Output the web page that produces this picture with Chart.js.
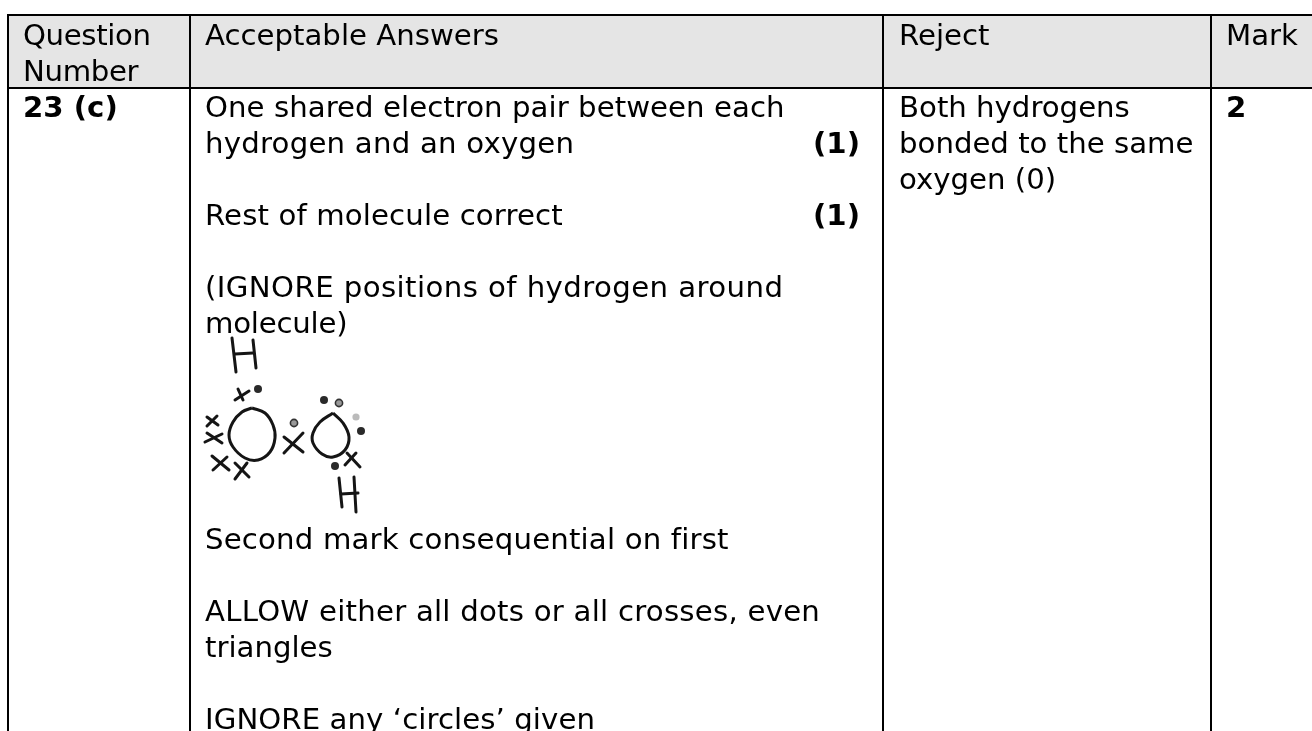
<!DOCTYPE html>
<html><head><meta charset="utf-8">
<style>html,body{margin:0;padding:0;background:#fff;overflow:hidden}canvas{display:block}</style>
<script src="https://cdn.jsdelivr.net/npm/chart.js@4"></script>
</head><body><canvas id="c" width="1312" height="731"></canvas>
<script>
// Table content
const headerCells = [["Question","Number"],["Acceptable Answers"],["Reject"],["Mark"]];
const questionCell = ["23 (c)"];
const answerLines = ["One shared electron pair between each","hydrogen and an oxygen","","Rest of molecule correct","","(IGNORE positions of hydrogen around","molecule)","","","","","","Second mark consequential on first","","ALLOW either all dots or all crosses, even","triangles","","IGNORE any ‘circles’ given"];
const answerMarks = [[1,"(1)"],[3,"(1)"]];
const rejectLines = ["Both hydrogens","bonded to the same","oxygen (0)"];
const markCell = ["2"];
// Table rules, in page units
const ruleSegments = [[[7,15],[1312,15]],[[7,88],[1312,88]],[[8,14],[8,731]],[[190,14],[190,731]],[[883,14],[883,731]],[[1211,14],[1211,731]]];
const headerBand = [[9,15],[1312,15]];
// Hand-drawn molecule strokes
const smoothStrokes = [
 [[252,408],[265,413],[273,425],[275,438],[270,452],[258,460],[245,458],[233,447],[229,435],[233,422],[242,412],[252,408]],
 [[333,413],[343,423],[349,437],[345,450],[333,457],[322,454],[313,443],[313,433],[320,422],[333,413]]
];
const straightStrokes = [
 [[232,338],[236,372]],[[253,340],[256,368]],[[235,354],[253,353]],
 [[339,478],[342,507]],[[354,477],[356,512]],[[341,494],[358,493]],
 [[235,400],[249,391]],[[238,389],[243,400]],
 [[207,417],[218,425]],[[217,416],[207,426]],
 [[205,442],[222,434]],[[207,433],[222,443]],
 [[212,456],[229,470]],[[227,457],[213,470]],
 [[235,463],[249,477]],[[247,463],[235,479]],
 [[284,437],[303,452]],[[303,433],[284,453]],
 [[347,453],[360,467]],[[356,453],[345,465]]
];
const dotsDark = [[258,389],[324,400],[361,431],[335,466]];
const dotsRing = [[339,403],[294,423]];
const dotsPale = [[356,417]];

const pt = a => a.map(([x,y])=>({x,y}));
const INK = "#151515";
const datasets = [];
datasets.push({type:"line",order:10,data:pt(headerBand),borderWidth:0,pointRadius:0,backgroundColor:"#e5e5e5",fill:{target:{value:88}}});
ruleSegments.forEach(s=>datasets.push({type:"line",order:5,data:pt(s),borderColor:"#000",borderWidth:2,pointRadius:0,borderCapStyle:"butt"}));
smoothStrokes.forEach(s=>datasets.push({type:"line",order:1,data:pt(s),borderColor:INK,borderWidth:3,pointRadius:0,tension:0.4}));
straightStrokes.forEach(s=>datasets.push({type:"line",order:1,data:pt(s),borderColor:INK,borderWidth:3,pointRadius:0,borderCapStyle:"round"}));
datasets.push({type:"scatter",order:1,data:pt(dotsDark),pointRadius:4,backgroundColor:"#2a2a2a",borderWidth:0});
datasets.push({type:"scatter",order:1,data:pt(dotsRing),pointRadius:3.6,backgroundColor:"#999",borderColor:"#333",borderWidth:1.6});
datasets.push({type:"scatter",order:1,data:pt(dotsPale),pointRadius:3.6,backgroundColor:"#bbb",borderWidth:0});

const FONT = '"DejaVu Sans", Verdana, sans-serif';
const SIZE = 29.2, STEP = 36, HEAD_BASE = 45, BODY_BASE = 117;
// extra line width (px) so the lines end where the reference's Verdana-set lines end
const answerStretch = [2,5,0,3,0,15,-2,0,0,0,0,0,6,0,10,0,0,2];
const tablePlugin = {id:"tableText",afterDatasetsDraw(chart){
  const {ctx,scales:{x,y}} = chart;
  const put = (lines,px,base,bold,align,stretch)=>lines.forEach((t,i)=>{
    if(!t) return;
    ctx.font=(bold?"bold ":"")+SIZE+"px "+FONT;
    ctx.letterSpacing = (stretch ? stretch[i]/t.length : 0)+"px";
    ctx.textAlign=align||"left"; ctx.textBaseline="alphabetic"; ctx.fillStyle="#000";
    ctx.fillText(t,x.getPixelForValue(px),y.getPixelForValue(base+i*STEP));
  });
  ctx.save();
  put(headerCells[0],23,HEAD_BASE,false,"left",[-3,-2]);
  put(headerCells[1],205,HEAD_BASE);
  put(headerCells[2],899,HEAD_BASE);
  put(headerCells[3],1226,HEAD_BASE);
  put(questionCell,23,BODY_BASE,true);
  put(answerLines,205,BODY_BASE,false,"left",answerStretch);
  answerMarks.forEach(([ln,t])=>put([t],860,BODY_BASE+ln*STEP,true,"right"));
  put(rejectLines,899,BODY_BASE);
  put(markCell,1226,BODY_BASE,true);
  ctx.restore();
}};

new Chart(document.getElementById("c"),{
  data:{datasets},
  options:{responsive:false,animation:false,events:[],devicePixelRatio:1,
    layout:{padding:0,autoPadding:false},
    plugins:{legend:{display:false},title:{display:false},tooltip:{enabled:false}},
    scales:{x:{type:"linear",min:0,max:1312,display:false},y:{type:"linear",min:0,max:731,reverse:true,display:false}}
  },
  plugins:[tablePlugin]
});
</script></body></html>
